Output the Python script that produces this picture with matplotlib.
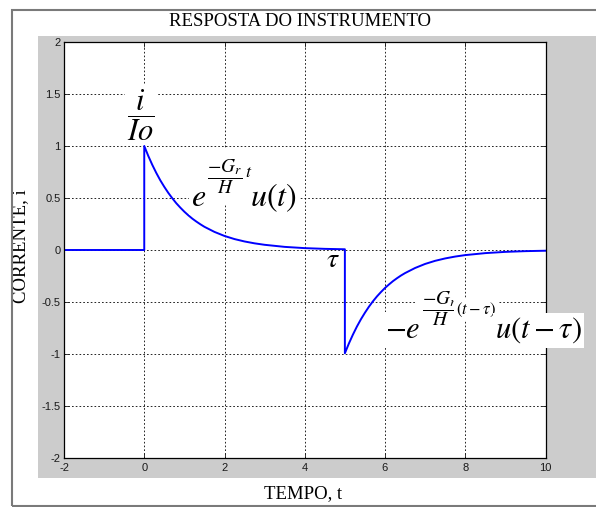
import matplotlib
matplotlib.use('Agg')
import matplotlib.pyplot as plt
from matplotlib.patches import Rectangle

# resposta do instrumento: pulso de entrada em t=0 e retirado em t=tau=5
tempo = [-2, 0,
         0, 0.1, 0.2, 0.3, 0.4, 0.5, 0.6, 0.7, 0.8, 0.9, 1.0, 1.1, 1.2, 1.3, 1.4, 1.5,
         1.75, 2.0, 2.25, 2.5, 2.75, 3.0, 3.5, 4.0, 4.5, 5.0,
         5.0, 5.1, 5.2, 5.3, 5.4, 5.5, 5.6, 5.7, 5.8, 5.9, 6.0, 6.1, 6.2, 6.3, 6.4, 6.5,
         6.75, 7.0, 7.25, 7.5, 7.75, 8.0, 8.5, 9.0, 9.5, 10]
corrente = [0, 0,
            1.0, 0.905, 0.819, 0.741, 0.670, 0.607, 0.549, 0.497, 0.449, 0.407, 0.368,
            0.333, 0.301, 0.273, 0.247, 0.223,
            0.174, 0.135, 0.105, 0.082, 0.064, 0.050, 0.030, 0.018, 0.011, 0.007,
            -0.993, -0.899, -0.814, -0.736, -0.666, -0.603, -0.545, -0.493, -0.446,
            -0.404, -0.365, -0.331, -0.299, -0.271, -0.245, -0.222,
            -0.173, -0.134, -0.104, -0.081, -0.063, -0.049, -0.030, -0.018, -0.011, -0.007]

xticks = [-2, 0, 2, 4, 6, 8, 10]
yticks = [-2, -1.5, -1, -0.5, 0, 0.5, 1, 1.5, 2]
ytick_labels = ['-2', '-1.5', '-1', '-0.5', '0', '0.5', '1', '1.5', '2']

plt.rcParams['mathtext.fontset'] = 'stix'

W, H = 596, 507
fig = plt.figure(figsize=(W / 100, H / 100), dpi=100)
fig.patch.set_facecolor('white')

# moldura e fundo cinza da janela
fig.add_artist(Rectangle((38 / W, 1 - 478 / H), 1, (478 - 36) / H,
                         transform=fig.transFigure, facecolor='#cccccc',
                         edgecolor='none', zorder=0))
fig.add_artist(Rectangle((11.5 / W, 1 - 505.5 / H), 1, (505.5 - 9.5) / H,
                         transform=fig.transFigure, facecolor='none',
                         edgecolor='#7a7a7a', linewidth=1.5, zorder=1))

ax = fig.add_axes([64 / W, 1 - 458 / H, (545.5 - 64) / W, (458 - 42) / H])
ax.set_facecolor('white')
ax.set_axisbelow(True)

ax.plot(tempo, corrente, color='#0000ff', linewidth=1.4, zorder=2)

ax.set_xlim(-2, 10)
ax.set_ylim(-2, 2)
ax.set_xticks(xticks)
ax.set_xticklabels([str(v) for v in xticks])
ax.set_yticks(yticks)
ax.set_yticklabels(ytick_labels)
ax.tick_params(direction='in', length=3.6, width=0.6, top=True, right=True,
               labelsize=8, labelfontfamily='Liberation Sans', colors='#1a1a1a')
ax.tick_params(axis='x', pad=3.5)
ax.tick_params(axis='y', pad=2.5)
ax.grid(True, color='black', linestyle=(0, (2, 2.5)), linewidth=0.6)
for s in ax.spines.values():
    s.set_linewidth(0.9)

serif = 'Liberation Serif'
fig.text(300 / W, 1 - 21 / H, 'RESPOSTA DO INSTRUMENTO', family=serif,
         fontsize=13.5, ha='center', va='center')
ax.set_xlabel('TEMPO, t', family=serif, fontsize=13.5, va='center')
ax.xaxis.set_label_coords(0.497, (458 - 494) / 416)
ax.set_ylabel('CORRENTE, i', family=serif, fontsize=13.5, va='center')
ax.yaxis.set_label_coords((21 - 64) / 481.5, (458 - 246) / 416)

# expressões sobre a curva (fundo branco como as figuras coladas)
def caixa(pad):
    return dict(facecolor='white', edgecolor='none', pad=pad)

ax.text(-0.08, 1.298, r'$\dfrac{i}{Io}$', fontsize=22, ha='center', va='center',
        bbox=caixa(1.5), zorder=4)

# expoentes primeiro (caixa maior, por baixo)
ax.text(1.564, 0.702, r'$\dfrac{-G_r}{H}$', fontsize=14, ha='left', va='center',
        bbox=caixa(6), zorder=3.5)
ax.text(2.51, 0.75, r'$t$', fontsize=13, ha='left', va='center', zorder=4.5)
ax.text(6.922, -0.567, r'$\dfrac{-G_r}{H}$', fontsize=14, ha='left',
        va='center', bbox=caixa(5), zorder=3.5)
ax.text(7.77, -0.577, r'$(t-\tau)$', fontsize=12, ha='left', va='center',
        bbox=caixa(1.5), zorder=3.6)

ax.text(1.165, 0.423, r'$e$', fontsize=23, ha='left', va='baseline',
        bbox=caixa(1.5), zorder=4)
ax.text(2.636, 0.423, r'$u(t)$', fontsize=23, ha='left', va='baseline',
        bbox=caixa(2.5), zorder=4)

ax.text(4.70, -0.087, r'$\tau$', fontsize=20, ha='center', va='center', zorder=4)

ax.text(6.0, -0.846, r'$-e$', fontsize=22, ha='left', va='baseline',
        bbox=caixa(2), zorder=4)
ax.text(8.741, -0.846, r'$u(t-\tau)$', fontsize=22, ha='left', va='baseline',
        bbox=caixa(1.5), zorder=4, clip_on=False)

fig.savefig('out.png', dpi=100)
